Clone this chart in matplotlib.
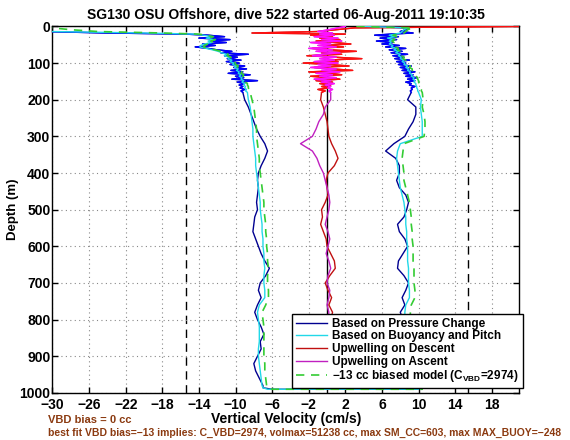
import matplotlib
matplotlib.use("Agg")
import matplotlib.pyplot as plt
import numpy as np

plt.rcParams['font.family'] = ['Liberation Sans', 'DejaVu Sans']
plt.rcParams['font.weight'] = 'bold'
plt.rcParams['mathtext.fontset'] = 'custom'
plt.rcParams['mathtext.rm'] = 'Liberation Sans:bold'
plt.rcParams['mathtext.it'] = 'Liberation Sans:bold'
plt.rcParams['mathtext.bf'] = 'Liberation Sans:bold'

title = "SG130 OSU Offshore, dive 522 started 06-Aug-2011 19:10:35"
xlabel = "Vertical Velocity (cm/s)"
ylabel = "Depth (m)"
note1 = "VBD bias = 0 cc"
note2 = "best fit VBD bias=\u221213 implies: C_VBD=2974, volmax=51238 cc, max SM_CC=603, max MAX_BUOY=\u2212248"
labels = ["Based on Pressure Change", "Based on Buoyancy and Pitch",
          "Upwelling on Descent", "Upwelling on Ascent",
          "\u221213 cc biased model (C$_{\\mathrm{VBD}}$=2974)"]

xticks = [-30, -26, -22, -18, -14, -10, -6, -2, 2, 6, 10, 14, 18]
yticks = [0, 100, 200, 300, 400, 500, 600, 700, 800, 900, 1000]
dash_lines = [-15.4, 15.4]
zero_line = [0]

# depth grid (m)
depth = [0, 4, 9, 14, 18, 21,
         24, 28, 32, 36, 40, 44, 48, 52, 56, 60, 64, 68, 72, 76,
         80, 84, 88, 92, 96, 100, 104, 108, 112, 116, 120, 124, 128, 132, 136, 140,
         144, 148, 152, 156, 160, 164, 168, 172, 176, 180,
         200, 220, 240, 260, 280, 300, 320, 340, 360, 380, 400, 420, 440, 460,
         480, 500, 520, 540, 560, 580, 600, 620, 640, 660, 680, 700, 720, 740,
         760, 780, 800, 820, 840, 860, 880, 900, 920, 940, 960, 980, 986, 990]

# --- descent (cm/s) ---
press_dn = [-45, -38, -33, -31, -24, -15.5,
            -13.0, -11.2, -14.0, -10.6, -12.8, -11.0, -13.6, -12.2, -14.4, -13.0, -12.0, -10.4, -11.6, -8.6,
            -11.2, -9.8, -10.9, -9.4, -11.0, -9.6, -10.6, -9.0, -10.2, -8.8, -10.5, -9.2, -10.8, -8.4, -10.0, -9.1,
            -10.4, -7.6, -9.8, -9.0, -9.6, -9.2, -9.5, -9.0, -9.4, -9.2,
            -9.0, -8.6, -8.3, -8.0, -7.7, -7.3, -6.8, -6.5, -6.8, -7.2, -7.5, -7.6, -7.5, -7.6,
            -7.7, -7.6, -7.9, -8.0, -8.1, -7.8, -7.5, -7.2, -6.8, -6.3, -6.7, -7.3, -7.5, -7.2,
            -7.6, -7.9, -7.6, -7.2, -6.9, -7.3, -7.2, -7.6, -8.0, -7.8, -7.4, -7.0, -7.0, -6.0]
buoy_dn = [-40, -36, -32, -30, -20, -14.5,
           -13.5, -12.6, -13.2, -12.4, -13.0, -12.6, -13.4, -13.8, -13.9, -13.2, -12.5, -11.9, -11.5, -11.0,
           -11.2, -10.7, -10.8, -10.4, -10.6, -10.2, -10.3, -9.9, -10.1, -9.7, -9.9, -9.6, -9.7, -9.4, -9.6, -9.3,
           -9.4, -9.1, -9.3, -9.0, -9.1, -8.9, -9.0, -8.8, -8.9, -8.7,
           -8.6, -8.4, -8.3, -8.2, -8.1, -8.1, -8.0, -7.9, -7.8, -7.8, -7.7, -7.6, -7.5, -7.4,
           -7.3, -7.3, -7.2, -7.1, -7.1, -7.0, -7.0, -6.9, -6.9, -6.8, -6.9, -6.9, -6.8, -6.8,
           -7.4, -7.6, -7.5, -7.4, -7.4, -7.4, -7.5, -7.5, -7.4, -7.3, -7.2, -7.1, -7.0, -6.5]
model_dn = [-50, -30, -28, -25, -18, -14.0,
            -13.2, -12.4, -12.9, -12.2, -12.7, -12.4, -13.0, -13.4, -13.5, -12.9, -12.2, -11.6, -11.2, -10.8,
            -10.9, -10.5, -10.5, -10.2, -10.3, -10.0, -10.0, -9.7, -9.8, -9.5, -9.6, -9.3, -9.4, -9.1, -9.2, -9.0,
            -9.0, -8.8, -8.9, -8.7, -8.7, -8.6, -8.6, -8.5, -8.5, -8.4,
            -8.2, -8.0, -7.9, -7.8, -7.7, -7.7, -7.6, -7.5, -7.4, -7.4, -7.3, -7.2, -7.1, -7.0,
            -6.9, -6.9, -6.8, -6.7, -6.7, -6.6, -6.6, -6.5, -6.5, -6.4, -6.5, -6.5, -6.4, -6.4,
            -6.7, -7.1, -7.0, -6.9, -6.9, -6.9, -6.9, -6.9, -6.8, -6.8, -6.7, -6.6, -6.6, -6.0]

# --- ascent (cm/s), same depth grid ---
press_up = [3.5, 9.0, 8.6, 8.0, 9.4, 7.0,
            5.2, 7.8, 5.8, 7.6, 5.4, 7.2, 6.0, 7.9, 6.4, 8.6, 6.8, 8.2, 7.0, 8.8,
            7.2, 8.4, 7.4, 9.0, 7.6, 8.6, 7.8, 9.2, 8.0, 9.0, 8.2, 9.6, 8.4, 9.4, 8.6, 9.8,
            8.8, 9.6, 8.6, 9.2, 9.0, 9.6, 9.2, 9.3, 9.1, 9.2,
            8.8, 9.7, 9.7, 9.4, 8.9, 8.5, 7.3, 6.4, 7.5, 7.9, 7.9, 7.6, 7.9, 8.6,
            8.9, 8.7, 8.4, 7.7, 7.9, 8.5, 8.8, 8.3, 7.8, 7.7, 8.4, 8.9, 8.6, 8.2,
            8.5, 8.0, 8.3, 8.6, 8.4, 8.1, 8.5, 8.6, 8.3, 8.5, 8.8, 9.0, 9.5, 10.0]
buoy_up = [4.0, 8.8, 8.4, 8.2, 8.0, 7.4,
           6.8, 7.4, 6.6, 7.2, 6.8, 7.0, 6.8, 7.2, 7.0, 7.6, 7.3, 7.8, 7.5, 8.0,
           7.8, 8.1, 8.0, 8.4, 8.2, 8.5, 8.4, 8.8, 8.6, 8.9, 8.8, 9.1, 9.0, 9.3, 9.2, 9.5,
           9.4, 9.6, 9.5, 9.7, 9.7, 9.8, 9.8, 9.9, 9.9, 10.0,
           10.3, 10.2, 10.3, 10.4, 10.4, 10.4, 8.0, 7.7, 7.6, 7.7, 7.8, 7.9, 8.0, 8.2,
           8.4, 8.5, 8.6, 8.6, 8.7, 8.7, 8.8, 8.8, 8.8, 8.9, 8.9, 8.9, 9.0, 9.0,
           8.6, 8.5, 8.5, 8.5, 8.6, 8.6, 8.6, 8.7, 8.7, 8.8, 8.8, 9.0, 9.5, 10.0]
model_up = [3.0, 9.4, 8.8, 8.6, 8.4, 7.8,
            7.2, 7.6, 7.0, 7.4, 7.1, 7.3, 7.2, 7.5, 7.4, 7.8, 7.7, 8.0, 7.9, 8.2,
            8.1, 8.4, 8.3, 8.6, 8.6, 8.8, 8.8, 9.1, 9.0, 9.3, 9.3, 9.5, 9.5, 9.7, 9.7, 9.9,
            9.9, 10.0, 10.0, 10.1, 10.1, 10.2, 10.2, 10.3, 10.3, 10.4,
            10.5, 10.4, 10.6, 10.7, 10.7, 10.6, 8.4, 8.3, 8.2, 8.3, 8.4, 8.4, 8.6, 8.8,
            9.0, 9.1, 9.2, 9.2, 9.3, 9.3, 9.4, 9.4, 9.4, 9.5, 9.5, 9.5, 9.6, 9.6,
            9.2, 9.1, 9.1, 9.1, 9.2, 9.2, 9.2, 9.3, 9.3, 9.4, 9.4, 9.6, 10.0, 10.4]

# --- upwelling (cm/s) ---
upw_dn = [21.5, 3.0, 1.0, -1.0, -8.2, 2.0,
          -1.8, 0.6, -0.8, 1.4, -1.2, 0.8, 2.6, -0.4, 1.8, -1.6, 0.4, 3.2, -0.6, 1.6,
          -2.2, 0.8, 3.8, -0.2, 1.2, -2.6, 0.2, 2.4, -1.4, 0.6, 2.8, -2.0, 0.4, 1.6, -1.8, 0.2,
          1.4, -1.2, 0.6, -0.8, 0.4, -0.6, 0.2, -1.0, -0.2, -0.6,
          -0.7, -0.4, -0.2, 0.0, 0.1, 0.2, 0.5, 0.9, 1.2, 0.8, 0.1, -0.1, 0.0, 0.1,
          -0.2, -0.6, -0.5, -0.7, -0.4, -0.1, 0.0, 0.4, 0.8, 0.9, 0.3, -0.2, 0.1, 0.5,
          0.2, 0.6, 0.4, 0.1, 0.3, 0.0, 0.2, 0.4, 0.1, -0.1, 0.2, 0.5, 0.4, 0.3]
upw_up = [2.0, 1.2, 0.2, -1.0, 0.6, -0.8,
          0.8, -1.4, 1.2, -0.6, 1.6, -1.8, 0.4, -1.0, 1.0, -2.0, 0.6, -1.2, 1.4, -0.4,
          -1.6, 1.0, -0.8, 0.8, -1.4, 1.2, -1.0, 0.4, -1.8, 1.0, -0.6, 1.4, -1.2, 0.6, -0.8, 1.0,
          -1.4, 0.4, -0.6, 0.8, -0.2, 0.4, 0.1, 0.6, 0.2, 0.4,
          0.4, -0.2, -0.4, -0.9, -1.2, -1.6, -2.9, -1.6, -1.1, -0.8, -0.4, -0.2, 0.0, 0.2,
          0.3, 0.2, 0.0, -0.2, 0.1, 0.3, 0.1, -0.1, 0.2, 0.4, 0.1, 0.0, 0.3, 0.2,
          0.0, 0.2, 0.1, 0.0, 0.2, 0.3, 0.1, 0.0, 0.2, 0.3, 0.1, 0.0, 0.1, 0.2]

c_navy = '#000090'
c_blue = '#0000ff'
c_cyan = '#22d8e8'
c_red_dk = '#c01010'
c_red = '#ff1010'
c_mag_dk = '#c020c0'
c_mag = '#ff10ff'
c_green = '#33cc33'
c_note = '#8b3a10'

d = np.array(depth, dtype=float)
d_full = np.concatenate([d, d[::-1]])
def dive(dn, up):
    return np.concatenate([np.array(dn, float), np.array(up, float)[::-1]])

press = dive(press_dn, press_up)
buoy = dive(buoy_dn, buoy_up)
model = dive(model_dn, model_up)
shallow = d <= 185

fig = plt.figure(figsize=(5.7, 4.4), dpi=100)
ax = fig.add_axes([0.092, 0.107, 0.819, 0.833])

for xv in dash_lines:
    ax.axvline(xv, color='black', ls=(0, (6, 4)), lw=1.0, zorder=1)
for xv in zero_line:
    ax.axvline(xv, color='black', lw=1.0, zorder=1)

h1, = ax.plot(press, d_full, color=c_navy, lw=1.0, zorder=3)
ax.plot(np.array(press_dn)[shallow], d[shallow], color=c_blue, lw=1.0, zorder=3)
ax.plot(np.array(press_up)[shallow], d[shallow], color=c_blue, lw=1.0, zorder=3)
h2, = ax.plot(buoy, d_full, color=c_cyan, lw=1.0, zorder=4)
h3, = ax.plot(upw_dn, d, color=c_red_dk, lw=1.0, zorder=3)
ax.plot(np.array(upw_dn)[shallow], d[shallow], color=c_red, lw=1.0, zorder=3)
h4, = ax.plot(upw_up, d, color=c_mag_dk, lw=1.0, zorder=3)
ax.plot(np.array(upw_up)[shallow], d[shallow], color=c_mag, lw=1.0, zorder=3)
h5, = ax.plot(model, d_full, color=c_green, lw=1.2, ls=(0, (5, 4)), zorder=5)

ax.set_xlim(-30, 21)
ax.set_ylim(1000, 0)
ax.set_xticks(xticks)
ax.set_yticks(yticks)
ax.set_xticklabels([f"{t}".replace('-', '\u2212') for t in xticks], fontsize=10, fontweight='bold')
ax.set_yticklabels([str(t) for t in yticks], fontsize=10, fontweight='bold')
ax.tick_params(direction='in', top=True, right=True, length=4, width=1)
ax.tick_params(axis='x', pad=4)
ax.tick_params(axis='y', pad=1.5)
ax.grid(True, color='#888888', ls=(0, (1, 3)), lw=0.8)
for s in ax.spines.values():
    s.set_linewidth(1.0)

ax.set_title(title, fontsize=10, fontweight='bold', pad=5)
ax.set_xlabel(xlabel, fontsize=10, fontweight='bold', labelpad=0)
ax.set_ylabel(ylabel, fontsize=9.5, fontweight='bold')
ax.yaxis.set_label_coords(-0.072, 0.5)

leg = ax.legend([h1, h2, h3, h4, h5], labels, loc='lower right',
                bbox_to_anchor=(1.007, 0.014), borderaxespad=0,
                frameon=True, fancybox=False, framealpha=1,
                edgecolor='black', labelspacing=0.05, handlelength=2.6,
                handletextpad=0.5, borderpad=0.3, prop={'weight': 'bold', 'size': 8.5})
leg.get_frame().set_linewidth(1.0)
leg.set_zorder(10)

fig.text(48 / 570, 1 - 420 / 440, note1, color=c_note, fontsize=8, fontweight='bold', va='center')
fig.text(48 / 570, 1 - 433 / 440, note2, color=c_note, fontsize=7.5, fontweight='bold', va='center')

fig.savefig('out.png', dpi=100)
